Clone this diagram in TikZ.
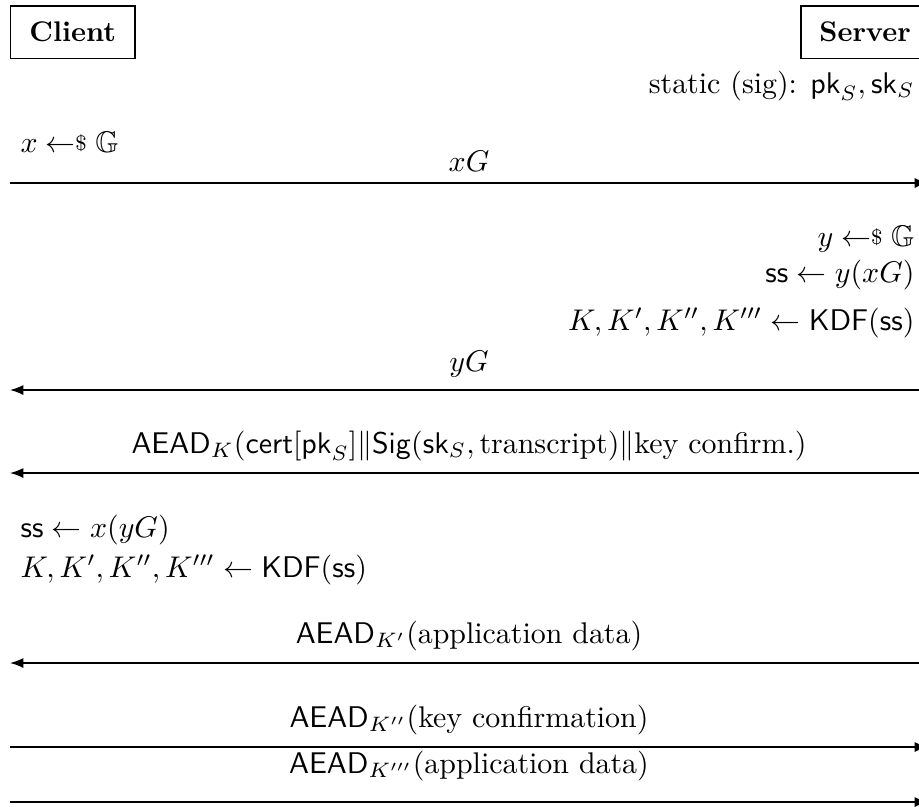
\documentclass[tikz,border=0pt]{standalone}
\usepackage{amsmath,amssymb}
\usetikzlibrary{arrows.meta}
\newcommand{\smp}{\mathrel{\leftarrow\hspace{-3pt}\raisebox{.6pt}{$\scriptstyle\$$}}}
\begin{document}
\begin{tikzpicture}[x=0.3344pt,y=-0.3344pt,
  party/.style={draw, line width=0.5pt, font=\fontsize{9.5}{11}\selectfont\bfseries, inner sep=0pt, minimum height=17.7pt},
  msg/.style={-{Latex[length=4.5pt,width=3.4pt]}, line width=0.5pt},
  lbl/.style={anchor=base, inner sep=0pt},
  lbll/.style={anchor=base west, inner sep=0pt},
  lblr/.style={anchor=base east, inner sep=0pt}]
\useasboundingbox (0,0) rectangle (919,806);
% parties
\node[party, anchor=north west, minimum width=41.5pt] (client) at (10,5) {Client};
\node[party, anchor=north west, minimum width=43pt] (server) at (800,5) {Server};
% server static keys
\node[lblr] (stat) at (915,93) {static (sig): $\mathsf{pk}_S, \mathsf{sk}_S$};
% client sampling
\node[lbll] (xs) at (20,152) {$x \smp \mathbb{G}$};
% message 1
\coordinate (c1) at (10,183); \coordinate (s1) at (928,183);
\draw[msg] (c1) -- (s1);
\node[lbl] (m1) at (469,171) {$xG$};
% server computation
\node[lblr] (ys) at (915,246) {$y \smp \mathbb{G}$};
\node[lblr] (sss) at (915,282) {$\mathsf{ss} \leftarrow y(xG)$};
\node[lblr] (kds) at (915,330) {$K, K', K'', K''' \leftarrow \mathsf{KDF}(\mathsf{ss})$};
% message 2
\coordinate (c2) at (10,390); \coordinate (s2) at (928,390);
\draw[msg] (s2) -- (c2);
\node[lbl] (m2) at (469,371) {$yG$};
% message 3
\coordinate (c3) at (10,473); \coordinate (s3) at (928,473);
\draw[msg] (s3) -- (c3);
\node[lbl] (m3) at (469,453) {$\mathsf{AEAD}_K(\mathsf{cert}[\mathsf{pk}_S] \| \mathsf{Sig}(\mathsf{sk}_S, \text{transcript}) \| \text{key confirm.})$};
% client computation
\node[lbll] (ssc) at (20,537) {$\mathsf{ss} \leftarrow x(yG)$};
\node[lbll] (kdc) at (20,577) {$K, K', K'', K''' \leftarrow \mathsf{KDF}(\mathsf{ss})$};
% message 4
\coordinate (c4) at (10,663); \coordinate (s4) at (928,663);
\draw[msg] (s4) -- (c4);
\node[lbl] (m4) at (469,643) {$\mathsf{AEAD}_{K'}(\text{application data})$};
% message 5
\coordinate (c5) at (10,747); \coordinate (s5) at (928,747);
\draw[msg] (c5) -- (s5);
\node[lbl] (m5) at (469,727) {$\mathsf{AEAD}_{K''}(\text{key confirmation})$};
% message 6
\coordinate (c6) at (10,802); \coordinate (s6) at (928,802);
\draw[msg] (c6) -- (s6);
\node[lbl] (m6) at (469,773) {$\mathsf{AEAD}_{K'''}(\text{application data})$};
\end{tikzpicture}
\end{document}
